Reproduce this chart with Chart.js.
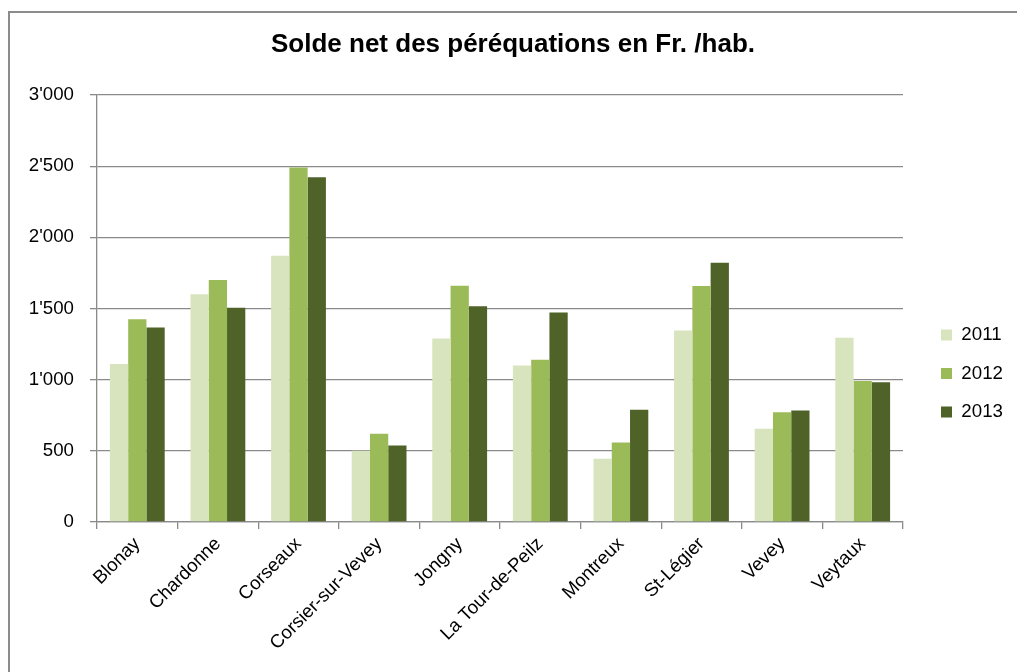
<!DOCTYPE html>
<html>
<head>
<meta charset="utf-8">
<script src="https://cdn.jsdelivr.net/npm/chart.js@4.4.1/dist/chart.umd.min.js"></script>
<style>
  html, body { margin: 0; padding: 0; background: #ffffff; overflow: hidden; }
  #frame { position: absolute; left: 8px; top: 11px; width: 1040px; height: 700px; border: 2px solid #8c8c8c; box-sizing: border-box; }
  #wrap { position: absolute; left: 0; top: 0; width: 1017px; height: 672px; }
</style>
</head>
<body>
<div id="frame"></div>
<div id="wrap"><canvas id="c" width="1017" height="672"></canvas></div>
<script>
const categories = ["Blonay", "Chardonne", "Corseaux", "Corsier-sur-Vevey", "Jongny", "La Tour-de-Peilz", "Montreux", "St-Légier", "Vevey", "Veytaux"];
const seriesNames = ["2011", "2012", "2013"];
const values2011 = [1110, 1600, 1870, 500, 1290, 1100, 445, 1345, 655, 1295];
const values2012 = [1425, 1700, 2490, 620, 1660, 1140, 558, 1658, 771, 990];
const values2013 = [1367, 1505, 2422, 537, 1515, 1472, 788, 1821, 783, 982];
const yTickLabels = ["0", "500", "1'000", "1'500", "2'000", "2'500", "3'000"];
const chartTitle = "Solde net des péréquations en Fr. /hab.";

const FONT = "'Liberation Sans', Arial, sans-serif";
const GRID = '#8a8a8a';

const legendPlacer = {
  id: 'legendPlacer',
  beforeLayout(chart) {
    const lg = chart.legend;
    if (lg && !lg._patched) {
      const orig = lg.fit.bind(lg);
      lg.fit = function () { orig(); this.width = 114; };
      lg._patched = true;
    }
  },
  afterLayout(chart) {
    const lg = chart.legend;
    if (!lg) return;
    const pad = lg.options.labels.padding;
    lg.left = 941 - pad;
    lg.right = lg.left + 110;
    lg.top = 0;
    lg.bottom = 747;
  }
};

new Chart(document.getElementById('c'), {
  type: 'bar',
  data: {
    labels: categories,
    datasets: [
      { label: seriesNames[0], data: values2011, backgroundColor: '#D7E4BD' },
      { label: seriesNames[1], data: values2012, backgroundColor: '#9BBB59' },
      { label: seriesNames[2], data: values2013, backgroundColor: '#4F6228' }
    ]
  },
  options: {
    responsive: false,
    animation: false,
    devicePixelRatio: 1,
    layout: { padding: { left: 9, right: 0, top: 0, bottom: 0 } },
    datasets: { bar: { categoryPercentage: 0.68, barPercentage: 1.0 } },
    plugins: {
      title: {
        display: true,
        text: chartTitle,
        color: '#000',
        font: { family: FONT, size: 26, weight: 'bold' },
        padding: { top: 29, bottom: 34.8 }
      },
      legend: {
        position: 'right',
        labels: {
          color: '#000',
          font: { family: FONT, size: 18.7 },
          boxWidth: 11,
          boxHeight: 11,
          padding: 19.8
        }
      },
      tooltip: { enabled: false }
    },
    scales: {
      x: {
        offset: true,
        grid: { offset: true, drawOnChartArea: false, drawTicks: true, tickLength: 7, color: GRID, lineWidth: 1.3 },
        border: { display: true, color: GRID, width: 1.3 },
        ticks: {
          color: '#000',
          font: { family: FONT, size: 18.7 },
          minRotation: 45,
          maxRotation: 45,
          autoSkip: false,
          padding: 4
        },
        afterFit(scale) { scale.height = 150; }
      },
      y: {
        min: 0,
        max: 3000,
        grid: { drawTicks: true, tickLength: 7, color: GRID, lineWidth: 1.3 },
        border: { display: true, color: GRID, width: 1.3 },
        ticks: {
          stepSize: 500,
          color: '#000',
          font: { family: FONT, size: 18.7 },
          padding: 16,
          callback: function (value, index) { return yTickLabels[index]; }
        },
        afterFit(scale) { scale.width = 88; }
      }
    }
  },
  plugins: [legendPlacer]
});
</script>
</body>
</html>
